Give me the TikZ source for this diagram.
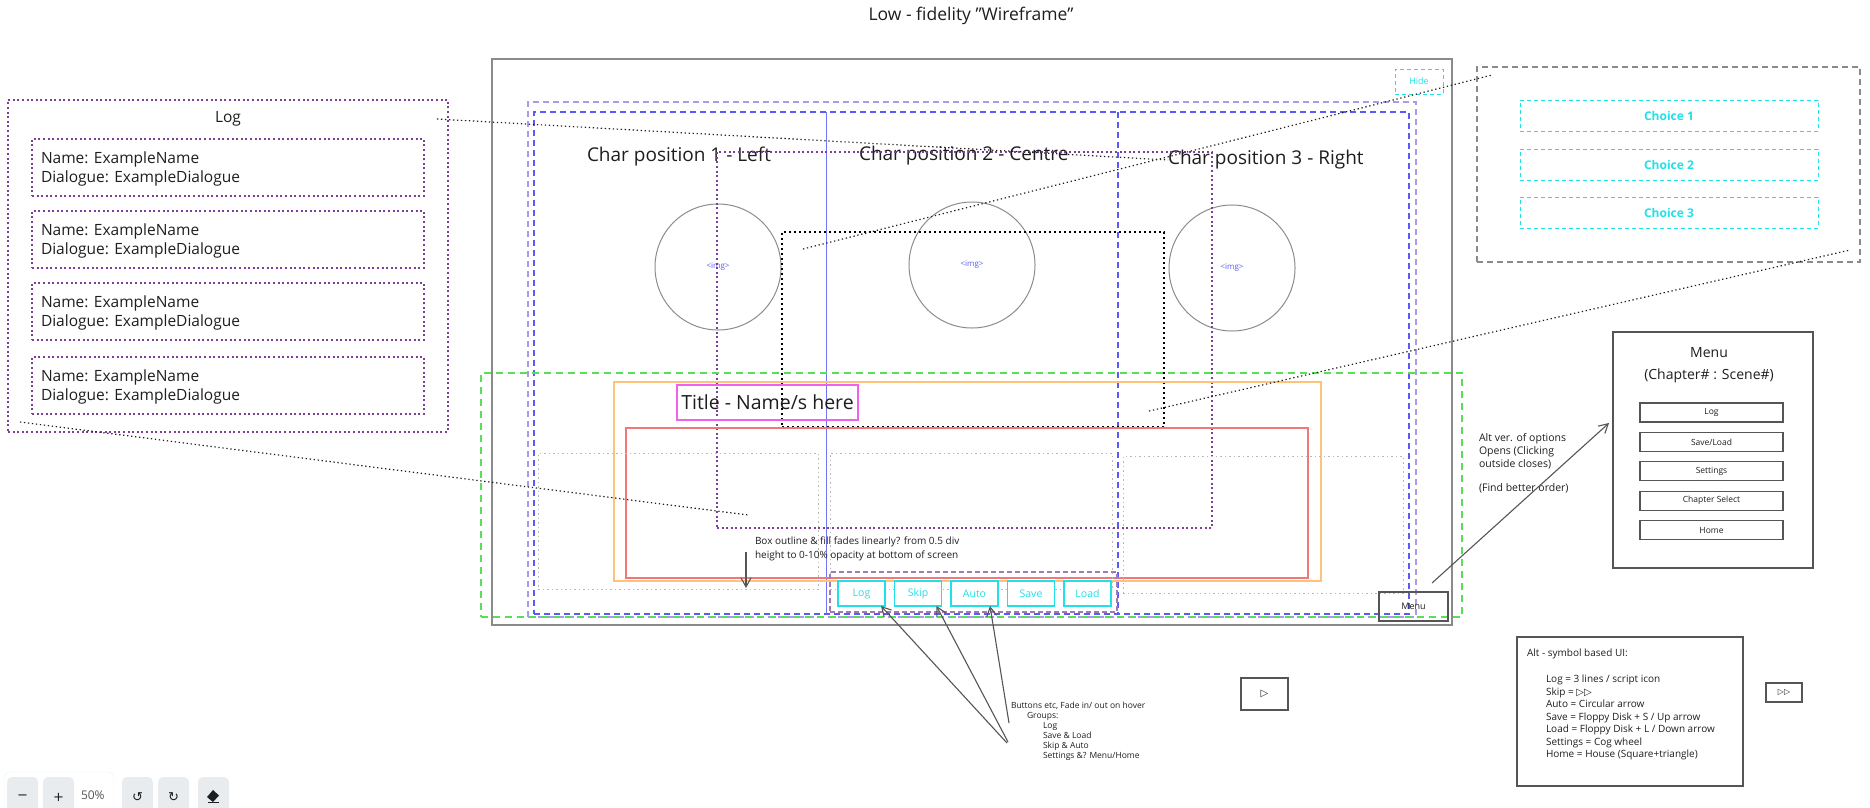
\documentclass[tikz,border=0pt]{standalone}
\usepackage{fontspec}
\setmainfont{Open Sans}
\newfontfamily\symfont{DejaVu Sans}
\usetikzlibrary{arrows.meta,positioning}
\definecolor{ink}{HTML}{1E1E1E}
\definecolor{scrgray}{HTML}{8A8A8A}
\definecolor{lav}{HTML}{A99BE8}
\definecolor{bluec}{HTML}{5A5AF5}
\definecolor{purp}{HTML}{7C3E96}
\definecolor{lgry}{HTML}{B8B8B8}
\definecolor{grn}{HTML}{55E055}
\definecolor{orng}{HTML}{FFC27A}
\definecolor{redl}{HTML}{F07878}
\definecolor{mag}{HTML}{F060F0}
\definecolor{cyn}{HTML}{20E0E8}
\definecolor{dgry}{HTML}{555555}
\definecolor{cgray}{HTML}{8C8C8C}
\definecolor{toolbg}{HTML}{E9ECEF}
\newcommand{\setsz}[2][]{\fontsize{#2}{#2}\selectfont}
\tikzset{
  every node/.style={inner sep=0pt,outer sep=0pt,text=ink},
  scr/.style={draw=scrgray,line width=1.5pt},
  lavbox/.style={draw=lav,line width=1.4pt,dash pattern=on 6pt off 4pt},
  bluebox/.style={draw=bluec,line width=1.1pt,dash pattern=on 6pt off 4pt},
  pdot/.style={draw=purp,line width=2pt,dash pattern=on 2pt off 2.6pt},
  bdot/.style={draw=black,line width=2.4pt,dash pattern=on 2.4pt off 2.6pt},
  gdot/.style={draw=lgry,line width=1pt,dash pattern=on 1.5pt off 3pt},
  grnbox/.style={draw=grn,line width=1.6pt,dash pattern=on 7pt off 5pt},
  cdash/.style={draw=cyn,line width=1pt,dash pattern=on 4pt off 3pt,text=cyn},
  cbtn/.style={draw=cyn,line width=1.4pt,fill=white,text=cyn,minimum width=47pt,minimum height=25pt,font=\setsz{10.5}},
  gbox/.style={draw=dgry,line width=1.3pt},
  circ/.style={draw=cgray,line width=1pt,circle,minimum size=126pt,text=bluec,font=\setsz{8}},
  ptr/.style={draw=ink,line width=1.2pt,dash pattern=on 1.3pt off 2.7pt},
  ar/.style={draw=dgry,line width=1.1pt,-{Straight Barb[length=9pt,width=10pt]}},
  hd/.style={font=\setsz{15.5}},
  entry/.style={align=left,font=\fontsize{15.5}{19}\selectfont},
  chartxt/.style={font=\setsz{19},anchor=west},
  note/.style={align=left,anchor=north west},
  tool/.style={fill=toolbg,rounded corners=5pt,minimum width=31pt,minimum height=40pt,anchor=north west,font=\symfont\setsz{13}},
}
\begin{document}
\begin{tikzpicture}[x=1pt,y=-1pt]
\useasboundingbox (0,0) rectangle (1870,807);
\node[font=\setsz{17.5}] (head) at (971,16) {Low - fidelity "Wireframe"};

% log panel
\node[pdot,minimum width=440pt,minimum height=332pt,anchor=north west] (logp) at (8,100) {};
\node[hd] (logt) at (228,119) {Log};
\foreach \y [count=\i] in {139,211,283,357} {
  \node[pdot,minimum width=392pt,minimum height=57pt,anchor=north west] (ent\i) at (32,\y) {};
  \node[entry,anchor=west] (entt\i) at ([xshift=9pt,yshift=-1pt]ent\i.west) {Name: ExampleName\\Dialogue: ExampleDialogue};
}

% game screen
\node[scr,minimum width=960pt,minimum height=566pt,anchor=north west] (screen) at (492,59) {};
\node[lavbox,minimum width=888pt,minimum height=515pt,anchor=north west] (safe) at (528,102) {};
\node[bluebox,minimum width=875pt,minimum height=502pt,anchor=north west] (cols) at (534,112) {};
\draw[draw=bluec!85,line width=0.9pt] (826,112) -- (826,614);
\draw[bluebox] (1118,112) -- (1118,614);
\node[cdash,minimum width=48pt,minimum height=25pt,font=\setsz{9}] (hide) at (1419,81.5) {Hide};

\node[chartxt] (cp1) at (587,157) {Char position 1 - Left};
\node[chartxt] (cp2) at (859,156) {Char position 2 - Centre};
\node[chartxt] (cp3) at (1168,160) {Char position 3 - Right};
\node[circ] (img1) at (718,267) {<img>};
\node[circ] (img2) at (972,265) {<img>};
\node[circ] (img3) at (1232,268) {<img>};

\node[pdot,minimum width=495pt,minimum height=376pt,anchor=north west] (pdotbox) at (717,152) {};
\node[bdot,minimum width=382pt,minimum height=195pt,anchor=north west] (bdotbox) at (782,232) {};

% dialogue area
\node[grnbox,minimum width=981pt,minimum height=244pt,anchor=north west] (uiarea) at (481,373) {};
\node[draw=orng,line width=1.5pt,minimum width=707pt,minimum height=199pt,anchor=north west] (dlgbox) at (614,382) {};
\node[draw=redl,line width=1.8pt,minimum width=682pt,minimum height=150pt,anchor=north west] (txtbox) at (626,428) {};
\node[gdot,minimum width=280pt,minimum height=136pt,anchor=north west] (gl) at (538,453) {};
\node[gdot,minimum width=282pt,minimum height=136pt,anchor=north west] (gm) at (830,453) {};
\node[gdot,minimum width=280pt,minimum height=137pt,anchor=north west] (gr) at (1123,456) {};
\node[draw=mag,line width=1.5pt,minimum width=181pt,minimum height=35pt,font=\setsz{19.5}] (ttl) at (767.5,402.5) {Title - Name/s here};

\node[note,font=\fontsize{10}{14}\selectfont] (fadenote) at (755,537) {Box outline \& fill fades linearly? from 0.5 div\\height to 0-10\% opacity at bottom of screen};
\coordinate (fadeA) at (746,552);
\coordinate (fadeB) at (746,588);
\draw[ar] (fadeA) -- (fadeB);

% buttons
\node[draw=purp!70,line width=1.2pt,dash pattern=on 5pt off 3pt,minimum width=287pt,minimum height=40pt,anchor=north west] (btnrow) at (830,572) {};
\foreach \n [count=\i] in {Log,Skip,Auto,Save,Load}
  \node[cbtn] (btn\n) at ({861.5+(\i-1)*56.5},593.5) {\n};
\node[gbox,minimum width=69pt,minimum height=29pt,font=\setsz{9}] (menubtn) at (1413.5,606.5) {Menu};

% choices
\node[draw=scrgray,line width=1.4pt,dash pattern=on 6pt off 4pt,minimum width=383pt,minimum height=195pt,anchor=north west] (choicep) at (1477,67) {};
\foreach \y [count=\i] in {115.5,164.5,212.5}
  \node[cdash,minimum width=298pt,minimum height=31pt,font=\bfseries\setsz{12}] (ch\i) at (1669,\y) {Choice \i};

% pointers
\coordinate (regP) at (748,515);
\draw[ptr] ([xshift=-11pt,yshift=-19pt]logp.north east) -- (cp3.west);
\draw[ptr] ([xshift=12pt,yshift=10pt]logp.south west) -- (regP);
\draw[ptr] ([xshift=21pt,yshift=-17pt]bdotbox.north west) -- ([xshift=15pt,yshift=-8pt]choicep.north west);
\draw[ptr] ([xshift=-15pt,yshift=16pt]bdotbox.south east) -- ([xshift=-10pt,yshift=12pt]choicep.south east);

% menu
\node[gbox,minimum width=200pt,minimum height=236pt,anchor=north west] (menup) at (1613,332) {};
\node[font=\setsz{14}] (mtitle) at (1709,353) {Menu};
\node[font=\setsz{14}] (mscene) at (1709,376) {(Chapter\# : Scene\#)};
\foreach \t [count=\i] in {Log,Save/Load,Settings,Chapter Select,Home}
  \node[gbox,minimum width=143pt,minimum height=19pt,font=\setsz{8.5}] (mitem\i) at ({1711.5},{412.5+(\i-1)*29.4}) {\t};
\node[note,font=\fontsize{10.5}{13}\selectfont] (menunote) at (1479,433) {Alt ver. of options\\Opens (Clicking\\outside closes)\\[11pt](Find better order)};
\draw[ar] ([xshift=-16pt,yshift=9pt]menubtn.north east) -- ([xshift=-4pt,yshift=27pt]menup.west);

% button groups note
\node[note,font=\fontsize{8.5}{10}\selectfont] (btnnote) at (1011,702) {Buttons etc, Fade in/ out on hover\\\hspace*{16pt}Groups:\\\hspace*{32pt}Log\\\hspace*{32pt}Save \& Load\\\hspace*{32pt}Skip \& Auto\\\hspace*{32pt}Settings \&? Menu/Home};
\coordinate (gA) at (1007,743);
\coordinate (gB) at (1008,742);
\coordinate (gC) at (1009,723);
\draw[ar] (gA) -- ([xshift=-4pt]btnLog.south east);
\draw[ar] (gB) -- ([xshift=-5pt]btnSkip.south east);
\draw[ar] (gC) -- ([xshift=-8pt]btnAuto.south east);

% symbol alternatives
\node[gbox,minimum width=47pt,minimum height=32pt,font=\symfont\setsz{10}] (playbtn) at (1264.5,694) {▷};
\node[gbox,minimum width=36pt,minimum height=19pt,font=\symfont\setsz{8}] (skipbtn) at (1784,692.5) {▷▷};
\node[gbox,minimum width=226pt,minimum height=149pt,anchor=north west] (altbox) at (1517,637) {};
\node[note,font=\fontsize{10}{12.5}\selectfont] (alttxt) at (1527,649) {Alt - symbol based UI:\\[13.5pt]
  \hspace*{19pt}Log = 3 lines / script icon\\
  \hspace*{19pt}Skip = {\symfont ▷▷}\\
  \hspace*{19pt}Auto = Circular arrow\\
  \hspace*{19pt}Save = Floppy Disk + S / Up arrow\\
  \hspace*{19pt}Load = Floppy Disk + L / Down arrow\\
  \hspace*{19pt}Settings = Cog wheel\\
  \hspace*{19pt}Home = House (Square+triangle)};

% toolbar
\draw[draw=toolbg!80,fill=white,rounded corners=6pt] (4,772) rectangle (114,820);
\node[tool] (zout) at (7,777) {−};
\node[tool] (zin) at (43,777) {+};
\node[font=\setsz{12},text=dgry,anchor=west] (zlvl) at (81,795) {50\%};
\node[tool] (undo) at (122,777) {↺};
\node[tool] (redo) at (158,777) {↻};
\node[tool] (erase) at (198,777) {};
\fill[ink] (207,797) -- (213,790) -- (219,795.5) -- (213,802) -- cycle;
\draw[ink,line width=1pt] (208,802.5) -- (219,802.5);
\end{tikzpicture}
\end{document}
